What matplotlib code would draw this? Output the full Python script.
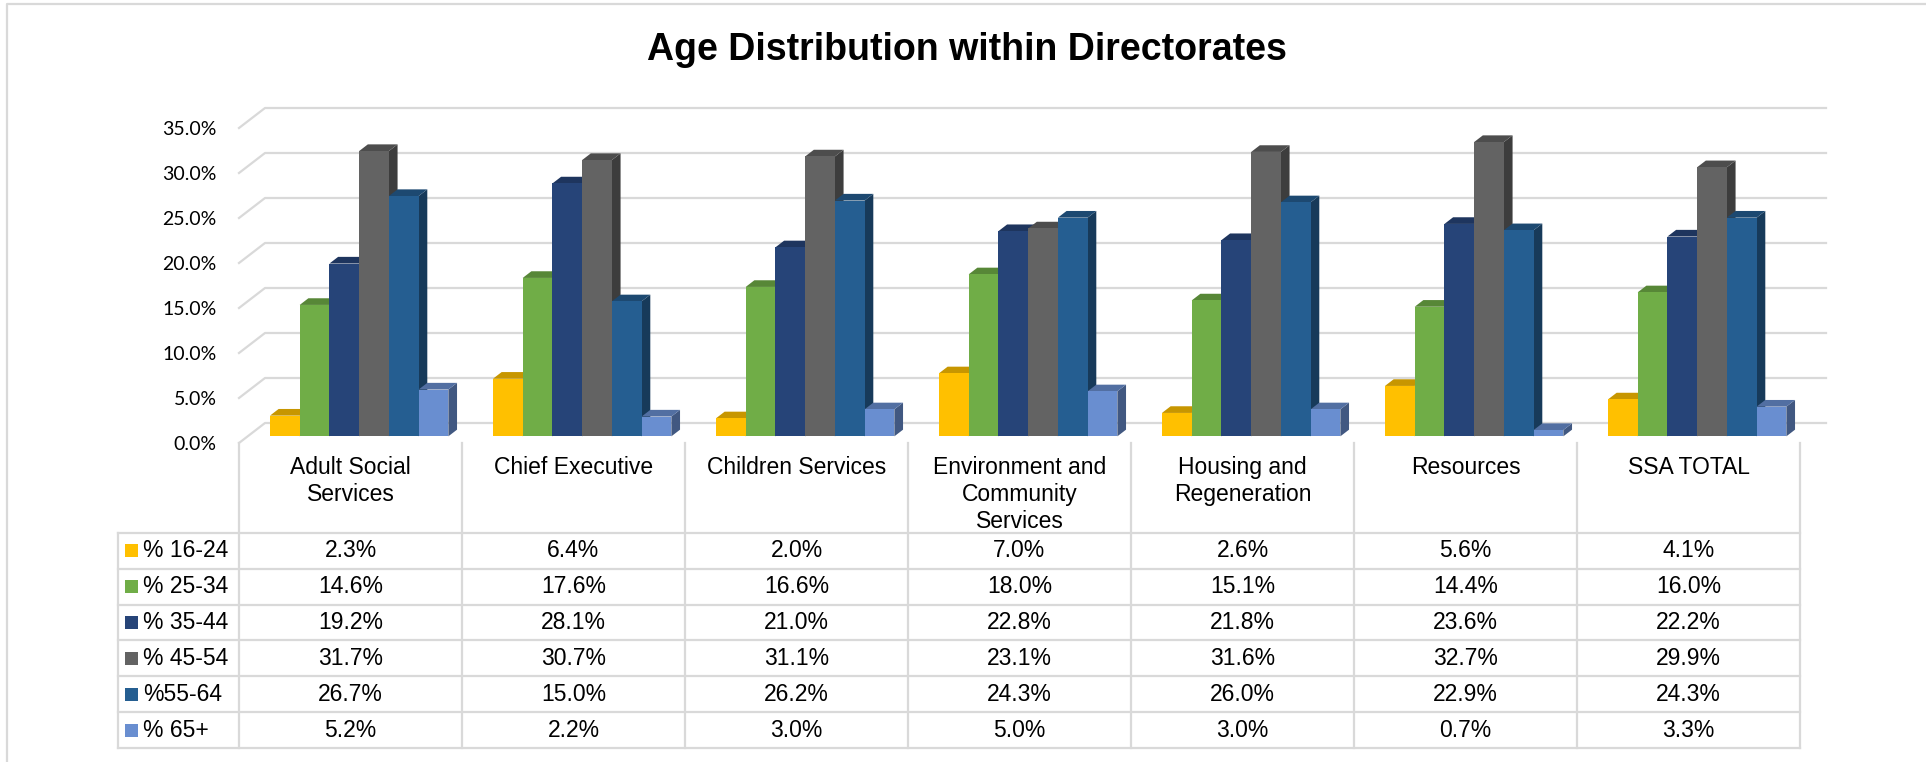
import matplotlib
matplotlib.use("Agg")
import matplotlib.pyplot as plt
from matplotlib.patches import Polygon, Rectangle
import numpy as np

directorates = ["Adult Social\nServices", "Chief Executive", "Children Services",
                "Environment and\nCommunity\nServices", "Housing and\nRegeneration",
                "Resources", "SSA TOTAL"]
age_bands = ["% 16-24", "% 25-34", "% 35-44", "% 45-54", "%55-64", "% 65+"]

pct_16_24 = [2.3, 6.4, 2.0, 7.0, 2.6, 5.6, 4.1]
pct_25_34 = [14.6, 17.6, 16.6, 18.0, 15.1, 14.4, 16.0]
pct_35_44 = [19.2, 28.1, 21.0, 22.8, 21.8, 23.6, 22.2]
pct_45_54 = [31.7, 30.7, 31.1, 23.1, 31.6, 32.7, 29.9]
pct_55_64 = [26.7, 15.0, 26.2, 24.3, 26.0, 22.9, 24.3]
pct_65_up = [5.2, 2.2, 3.0, 5.0, 3.0, 0.7, 3.3]
series = [pct_16_24, pct_25_34, pct_35_44, pct_45_54, pct_55_64, pct_65_up]

colors = ["#FFC000", "#70AD47", "#264478", "#636363", "#255E91", "#698ED0"]
grid_c = "#d9d9d9"

W, H = 1926, 762
fig = plt.figure(figsize=(W / 100, H / 100), dpi=100)

# pixel-space layer for frame, title and data table
ov = fig.add_axes([0, 0, 1, 1])
ov.set_xlim(0, W)
ov.set_ylim(H, 0)
ov.axis("off")

ov.plot([7, 7, W], [H, 4, 4], color=grid_c, lw=1.6, solid_capstyle="butt")
ov.text(967, 50, "Age Distribution within Directorates", ha="center", va="center",
        fontsize=27, fontweight="bold", family="Liberation Sans")

# chart area: front plane from x=239..1800 px, y=443..128 px
x0, x1 = 239, 1800
y0, y1 = 443, 128
ax = fig.add_axes([x0 / W, (H - y0) / H, (x1 - x0) / W, (y0 - y1) / H])
ax.set_xlim(0, 7)
ax.set_ylim(0, 35)
ax.patch.set_alpha(0)
for s in ax.spines.values():
    s.set_visible(False)
ax.set_xticks([])
yt = np.arange(0, 36, 5)
ax.set_yticks(yt)
ax.set_yticklabels([f"{v:.1f}%" for v in yt], family="Lato", fontsize=14)
ax.tick_params(axis="y", length=0, pad=16)

# oblique depth of the floor, in data units
dx = 26 / 223
dy = 20 / 9
for v in yt:
    ax.plot([0, dx, 7 + dx], [v, v + dy, v + dy], color=grid_c, lw=1.6,
            clip_on=False, zorder=1)

bw = 1 / 7.5
off = 0.75 * bw
bx, by = dx / 3, dy / 3


def shade(c, f):
    r, g, b = matplotlib.colors.to_rgb(c)
    return (r * f, g * f, b * f)


for i in range(len(directorates)):
    for j, vals in enumerate(series):
        v = vals[i]
        xl = i + off + j * bw + bx
        xr = xl + bw
        b0 = by
        top = v + by
        c = colors[j]
        side = Polygon([(xr, b0), (xr + bx, b0 + by), (xr + bx, top + by), (xr, top)],
                       closed=True, fc=shade(c, 0.62), ec="none", clip_on=False, zorder=2)
        lid = Polygon([(xl, top), (xr, top), (xr + bx, top + by), (xl + bx, top + by)],
                      closed=True, fc=shade(c, 0.78), ec="none", clip_on=False, zorder=2)
        front = Rectangle((xl, b0), bw, v, fc=c, ec="none", clip_on=False, zorder=2)
        ax.add_patch(side)
        ax.add_patch(lid)
        ax.add_patch(front)

# data table under the chart
col_w = (x1 - x0) / 7
leg_x = 118
hdr_top, row_top, row_h = 443, 533, 35.83
n_rows = len(series)
bottom = row_top + n_rows * row_h
for k in range(n_rows + 1):
    yy = row_top + k * row_h
    ov.plot([leg_x, x1], [yy, yy], color=grid_c, lw=1.6, zorder=1)
ov.plot([leg_x, leg_x], [row_top, bottom], color=grid_c, lw=1.6, zorder=1)
for i in range(8):
    xx = x0 + i * col_w
    ov.plot([xx, xx], [hdr_top, bottom], color=grid_c, lw=1.6, zorder=1)

tfont = dict(family="Liberation Sans", fontsize=16.5, color="black")
for i, name in enumerate(directorates):
    ov.text(x0 + (i + 0.5) * col_w, 456, name, ha="center", va="top",
            linespacing=1.22, **tfont)

for j, vals in enumerate(series):
    cy = row_top + (j + 0.5) * row_h
    ov.add_patch(Rectangle((125, cy - 6.5), 13, 13, fc=colors[j], ec="none"))
    ov.text(143, cy, age_bands[j], ha="left", va="center", **tfont)
    for i, v in enumerate(vals):
        ov.text(x0 + (i + 0.5) * col_w, cy, f"{v:.1f}%", ha="center", va="center", **tfont)

fig.savefig("out.png", dpi=100)
